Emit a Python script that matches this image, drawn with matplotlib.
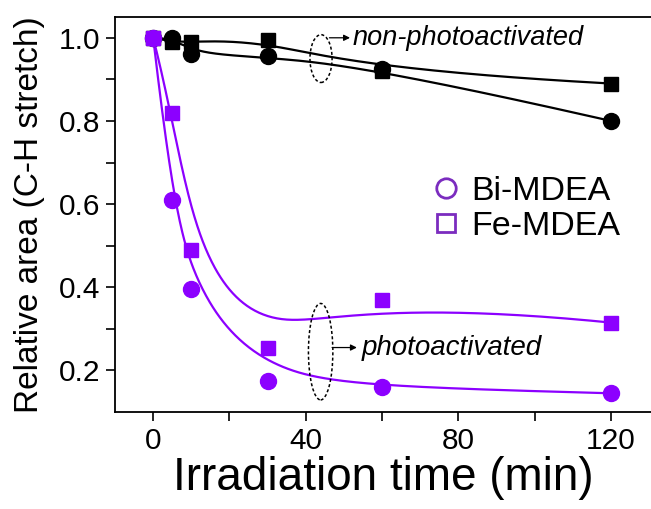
import numpy as np
import matplotlib
matplotlib.use("Agg")
import matplotlib.pyplot as plt
from matplotlib.patches import Ellipse
from matplotlib.lines import Line2D

plt.rcParams["font.family"] = ["Liberation Sans", "DejaVu Sans"]

# --- data: relative C-H stretch area vs irradiation time ---
time_min = [0, 5, 10, 30, 60, 120]

bi_dark = [1.0, 1.0, 0.96, 0.955, 0.925, 0.80]
fe_dark = [1.0, 0.99, 0.99, 0.995, 0.92, 0.89]
bi_light = [1.0, 0.61, 0.395, 0.175, 0.16, 0.145]
fe_light = [1.0, 0.82, 0.49, 0.255, 0.37, 0.315]

x_ticks = [0, 40, 80, 120]
y_ticks = [0.2, 0.4, 0.6, 0.8, 1.0]

PURPLE = "#8c00ff"
LEGEND_PURPLE = "#7b2cbf"


def bspline(xs, ys, n=300, k=3):
    """Clamped uniform B-spline using the points as control polygon."""
    pts = np.column_stack([xs, ys]).astype(float)
    m = len(pts)
    inner = np.linspace(0, 1, m - k + 1)[1:-1]
    knots = np.concatenate([np.zeros(k + 1), inner, np.ones(k + 1)])
    u = np.linspace(0, 1, n)
    u[-1] -= 1e-9

    # Cox-de Boor recursion
    N = np.zeros((n, len(knots) - 1))
    for i in range(len(knots) - 1):
        N[:, i] = (u >= knots[i]) & (u < knots[i + 1])
    for d in range(1, k + 1):
        newN = np.zeros((n, len(knots) - 1 - d))
        for i in range(len(knots) - 1 - d):
            a = knots[i + d] - knots[i]
            b = knots[i + d + 1] - knots[i + 1]
            t1 = (u - knots[i]) / a * N[:, i] if a > 0 else 0
            t2 = (knots[i + d + 1] - u) / b * N[:, i + 1] if b > 0 else 0
            newN[:, i] = t1 + t2
        N = newN
    curve = N @ pts
    return curve[:, 0], curve[:, 1]


fig = plt.figure(figsize=(6.51, 5.09), dpi=100)
ax = fig.add_axes([0.1767, 0.1906, 0.8233, 0.776])

for ys, col in [(bi_dark, "black"), (fe_dark, "black"),
                (bi_light, PURPLE), (fe_light, PURPLE)]:
    cx, cy = bspline(time_min, ys)
    ax.plot(cx, cy, color=col, lw=1.6, zorder=2)

ax.plot(time_min, bi_dark, "o", color="black", ms=11.5, zorder=3)
ax.plot(time_min, fe_dark, "s", color="black", ms=10.5, zorder=3)
ax.plot(time_min, bi_light, "o", color=PURPLE, ms=11.5, zorder=4)
ax.plot(time_min, fe_light, "s", color=PURPLE, ms=10.5, zorder=4)

# dashed ellipses grouping the two sets of curves
ax.add_patch(Ellipse((44, 0.95), 5.8, 0.115, fill=False, ls=(0, (2, 1.5)),
                     lw=1.1, ec="black", zorder=5))
ax.add_patch(Ellipse((43.9, 0.245), 6.4, 0.232, fill=False, ls=(0, (2, 1.5)),
                     lw=1.1, ec="black", zorder=5))

ax.annotate("", xy=(51.6, 1.0), xytext=(46.2, 1.0),
            arrowprops=dict(arrowstyle="-|>", lw=0.9, color="black",
                            mutation_scale=9, shrinkA=0, shrinkB=0))
ax.text(52.3, 1.0, "non-photoactivated", style="italic", fontsize=19.5,
        va="center", ha="left")

ax.annotate("", xy=(53.4, 0.255), xytext=(46.9, 0.255),
            arrowprops=dict(arrowstyle="-|>", lw=0.9, color="black",
                            mutation_scale=9, shrinkA=0, shrinkB=0))
ax.text(54.6, 0.255, "photoactivated", style="italic", fontsize=20,
        va="center", ha="left")

handles = [
    Line2D([], [], ls="none", marker="o", ms=14, mfc="none",
           mec=LEGEND_PURPLE, mew=2),
    Line2D([], [], ls="none", marker="s", ms=12.5, mfc="none",
           mec=LEGEND_PURPLE, mew=2),
]
ax.legend(handles, ["Bi-MDEA", "Fe-MDEA"], loc="upper left",
          bbox_to_anchor=(0.56, 0.64), frameon=False, fontsize=24.5,
          handlelength=0.8, handletextpad=0.35, labelspacing=0.12,
          borderpad=0.0)

ax.set_xlim(-10, 130.5)
ax.set_ylim(0.1, 1.05)
ax.set_xticks(x_ticks)
ax.set_xticks([20, 60, 100], minor=True)
ax.set_yticks(y_ticks)
ax.set_yticks([0.3, 0.5, 0.7, 0.9], minor=True)
ax.set_yticklabels([f"{v:.1f}" for v in y_ticks])

ax.spines["right"].set_visible(False)
for s in ["left", "bottom", "top"]:
    ax.spines[s].set_linewidth(1.3)
ax.tick_params(which="both", direction="out", length=6.5, width=1.2,
               top=False, right=False, labelsize=21.5, pad=4)

ax.set_xlabel("Irradiation time (min)", fontsize=33, labelpad=1)
ax.set_ylabel("Relative area (C-H stretch)", fontsize=24, labelpad=10)

fig.savefig("out.png", dpi=100)
